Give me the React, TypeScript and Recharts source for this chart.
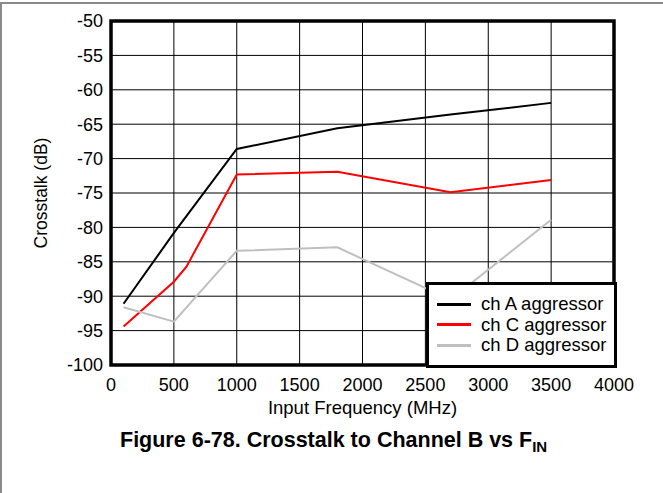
import * as React from "react"
import {
    CartesianGrid,
    Legend,
    Line,
    LineChart,
    ReferenceArea,
    XAxis,
    YAxis,
} from "recharts"

// series values (MHz, dB)
const freqA = [100, 500, 1000, 1800, 2700, 3500]
const chA = [-91.1, -80.8, -68.6, -65.6, -63.6, -61.9]

const freqC = [100, 500, 600, 1000, 1800, 2700, 3500]
const chC = [-94.4, -87.9, -85.7, -72.3, -71.9, -74.9, -73.1]

const freqD = [100, 500, 1000, 1800, 2700, 3500]
const chD = [-91.6, -93.7, -83.4, -82.9, -90.5, -78.9]

const xTicks = [0, 500, 1000, 1500, 2000, 2500, 3000, 3500, 4000]
const yTicks = [-100, -95, -90, -85, -80, -75, -70, -65, -60, -55, -50]

const FONT = "'Liberation Sans', Arial, Helvetica, sans-serif"
const BLACK = "#000000"
const RED = "#ff0000"
const GRAY = "#bfbfbf"

const toPoints = (xs: number[], ys: number[]) => xs.map((x, i) => ({ x, y: ys[i] }))

const series = [
    { name: "ch A aggressor", color: BLACK, data: toPoints(freqA, chA) },
    { name: "ch C aggressor", color: RED, data: toPoints(freqC, chC) },
    { name: "ch D aggressor", color: GRAY, data: toPoints(freqD, chD) },
]

function LegendBox() {
    return (
        <div
            style={{
                boxSizing: "border-box",
                width: 191,
                height: 86,
                border: `3px solid ${BLACK}`,
                background: "#ffffff",
                paddingTop: 9,
                fontFamily: FONT,
                fontSize: 18.5,
                color: BLACK,
            }}
        >
            {series.map((s) => (
                <div key={s.name} style={{ display: "flex", alignItems: "center", height: 20.5 }}>
                    <div style={{ width: 34, height: 3, background: s.color, marginLeft: 8, marginRight: 10 }} />
                    <span style={{ lineHeight: "20.5px", whiteSpace: "nowrap" }}>{s.name}</span>
                </div>
            ))}
        </div>
    )
}

const yTitle = (props: any) => {
    const vb = props.viewBox
    const cy = vb.y + vb.height / 2
    const cx = 47
    return (
        <text
            x={cx}
            y={cy}
            transform={`rotate(-90, ${cx}, ${cy})`}
            textAnchor="middle"
            fontFamily={FONT}
            fontSize={17.5}
            fill={BLACK}
        >
            Crosstalk (dB)
        </text>
    )
}

const xTitle = (props: any) => {
    const vb = props.viewBox
    const cx = vb.x + vb.width / 2
    return (
        <g>
            <text x={cx} y={vb.y + 49} textAnchor="middle" fontFamily={FONT} fontSize={18.5} fill={BLACK}>
                Input Frequency (MHz)
            </text>
            <text x={120} y={446.5} fontFamily={FONT} fontSize={21.5} fontWeight="bold" fill={BLACK}>
                Figure 6-78. Crosstalk to Channel B vs F
                <tspan fontSize={15} dy={5}>IN</tspan>
            </text>
        </g>
    )
}

export default function App() {
    return (
        <div style={{ position: "absolute", left: 0, top: 0, width: 663, height: 493, background: "#ffffff" }}>
            <div style={{ position: "absolute", left: 0, top: 2, width: 663, height: 491, borderTop: "2px solid #8a8a8a", borderLeft: "2px solid #8a8a8a", boxSizing: "border-box" }} />
            <LineChart
                width={663}
                height={493}
                margin={{ top: 21, right: 49, bottom: 98, left: 51 }}
                style={{ position: "absolute", left: 0, top: 0 }}
            >
                <CartesianGrid stroke={BLACK} strokeWidth={1} />
                <XAxis
                    type="number"
                    dataKey="x"
                    domain={[0, 4000]}
                    ticks={xTicks}
                    interval={0}
                    height={30}
                    axisLine={false}
                    tickLine={false}
                    tickMargin={7}
                    tick={{ fontSize: 18, fill: BLACK, fontFamily: FONT }}
                    label={xTitle}
                    allowDuplicatedCategory={false}
                />
                <YAxis
                    type="number"
                    domain={[-100, -50]}
                    ticks={yTicks}
                    interval={0}
                    width={60}
                    axisLine={false}
                    tickLine={false}
                    tickMargin={2}
                    tick={{ fontSize: 18, fill: BLACK, fontFamily: FONT }}
                    label={yTitle}
                />
                {series.map((s) => (
                    <Line
                        key={s.name}
                        data={s.data}
                        dataKey="y"
                        name={s.name}
                        type="linear"
                        stroke={s.color}
                        strokeWidth={2}
                        dot={false}
                        activeDot={false}
                        isAnimationActive={false}
                    />
                ))}
                <ReferenceArea
                    x1={0}
                    x2={4000}
                    y1={-100}
                    y2={-50}
                    fill="none"
                    fillOpacity={0}
                    stroke={BLACK}
                    strokeWidth={3.5}
                    ifOverflow="visible"
                />
                <Legend
                    layout="vertical"
                    align="center"
                    verticalAlign="middle"
                    content={() => <LegendBox />}
                    wrapperStyle={{ left: 426, top: 282, width: 191, height: 86 }}
                />
            </LineChart>
        </div>
    )
}
